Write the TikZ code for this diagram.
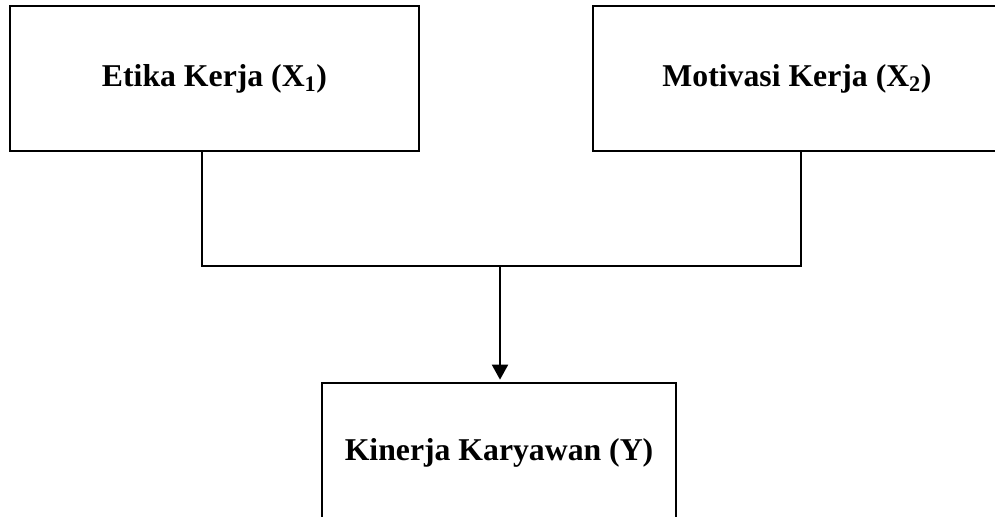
\documentclass[tikz,border=0pt]{standalone}
\usepackage{fontspec}
\setmainfont{Liberation Serif}
\usetikzlibrary{arrows.meta,calc}
\tikzset{
  varbox/.style={draw=black, line width=1pt, inner sep=0pt, align=center,
    font=\fontsize{23.8}{28}\selectfont\bfseries},
  conn/.style={draw=black, line width=0.9pt},
  arrowline/.style={draw=black, line width=1.5pt,
    -{Triangle[length=11.25pt,width=12pt]}, shorten >=2pt}
}
\begin{document}
\begin{tikzpicture}[x=0.75pt,y=-0.75pt]
\useasboundingbox (0,0) rectangle (995,517);
\clip (0,0) rectangle (995,517);
\node[varbox, minimum width=306.75pt, minimum height=108.75pt] (L) at (214.5,78.5) {Etika Kerja (X\textsubscript{1})};
\node[varbox, minimum width=306pt, minimum height=108.75pt] (R) at (797,78.5) {Motivasi Kerja (X\textsubscript{2})};
\node[varbox, minimum width=265.5pt, minimum height=105pt] (B) at (499,453) {Kinerja Karyawan (Y)};
\coordinate (jl) at (202,266);
\coordinate (jr) at (801,266);
\coordinate (jm) at (500,266);
\draw[conn] (L.south -| jl) -- (jl) -- (jr) -- (R.south -| jr);
\draw[arrowline] (jm) -- (B.north -| jm);
\end{tikzpicture}
\end{document}
